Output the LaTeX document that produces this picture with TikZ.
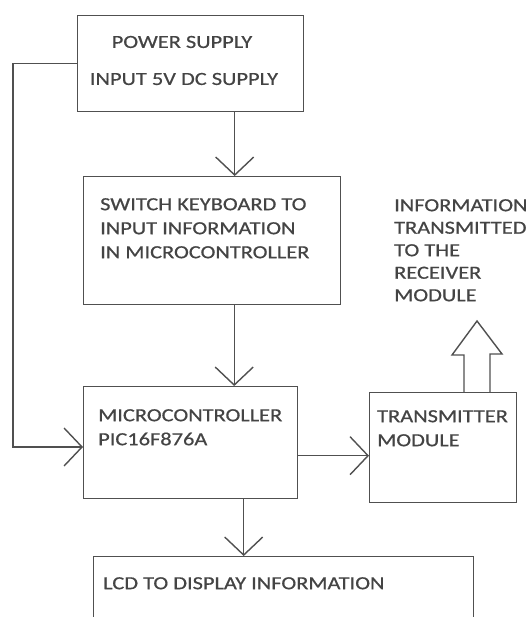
\documentclass[tikz,border=0pt]{standalone}
\usepackage{fontspec}
\setmainfont{Carlito}[FakeStretch=1.21, FakeBold=0.6]
\usetikzlibrary{arrows.meta}
\definecolor{txtgray}{HTML}{444444}
\definecolor{linegray}{HTML}{505050}
\tikzset{
  blockbox/.style={rectangle, draw=linegray, line width=1.4pt, inner sep=0pt, anchor=north west},
  txt/.style={font=\fontsize{18.5}{24}\selectfont, text=txtgray, inner sep=0pt, align=left},
  arr/.style={draw=linegray, line width=1.4pt, -{Straight Barb[length=18pt, width=38pt, line width=1.4pt]}}
}
\begin{document}
\begin{tikzpicture}[x=1pt, y=-1pt]
      \useasboundingbox[fill=white] (0,0) rectangle (531,617);

      % blocks
      \node at (77,15)   [blockbox, minimum width=226pt, minimum height=96pt]  (power)  {};
      \node at (83,176)  [blockbox, minimum width=257pt, minimum height=128pt] (switch) {};
      \node at (83,386)  [blockbox, minimum width=214pt, minimum height=112pt] (micro)  {};
      \node at (369,392) [blockbox, minimum width=147pt, minimum height=110pt] (trans)  {};
      \node at (93,556)  [blockbox, minimum width=380pt, minimum height=100pt] (lcd)    {};

      % texts
      \node at (182,42)  [txt] (powertxt1) {POWER SUPPLY};
      \node at (184,79)  [txt] (powertxt2) {INPUT 5V DC SUPPLY};
      \node at (100,198) [txt, anchor=north west] (switchtxt) {SWITCH KEYBOARD TO\\INPUT INFORMATION\\IN MICROCONTROLLER};
      \node at (98,409)  [txt, anchor=north west] (microtxt)  {MICROCONTROLLER\\PIC16F876A};
      \node at (377,410) [txt, anchor=north west] (transtxt)  {TRANSMITTER\\MODULE};
      \node at (103,577) [txt, anchor=north west] (lcdtxt)    {LCD TO DISPLAY INFORMATION};
      \node at (394,199) [txt, anchor=north west, font=\fontsize{18.5}{22.5}\selectfont] (rxtxt)
            {INFORMATION\\TRANSMITTED\\TO THE\\RECEIVER\\MODULE};

      % connectors
      \coordinate (loop) at (13,447);
      \draw[arr] (power.west) -| (loop) -- (loop -| micro.west);
      \draw[arr] ([xshift=44pt]power.south)  -- ([xshift=44pt]power.south |- switch.north);
      \draw[arr] ([xshift=22pt]switch.south) -- ([xshift=22pt]switch.south |- micro.north);
      \draw[arr] ([yshift=-13pt]micro.east)  -- ([yshift=-13pt]micro.east -| trans.west);
      \draw[arr] ([xshift=53pt]micro.south)  -- ([xshift=53pt]micro.south |- lcd.north);

      % hollow arrow out of the transmitter
      \draw[linegray, line width=1.4pt, line join=miter]
            ([xshift=95pt]trans.north west) -- ++(0,-37) -- ++(-12,0) -- (477,321)
            -- (502,354) -- ++(-12,0) -- ([xshift=121pt]trans.north west);
\end{tikzpicture}
\end{document}
